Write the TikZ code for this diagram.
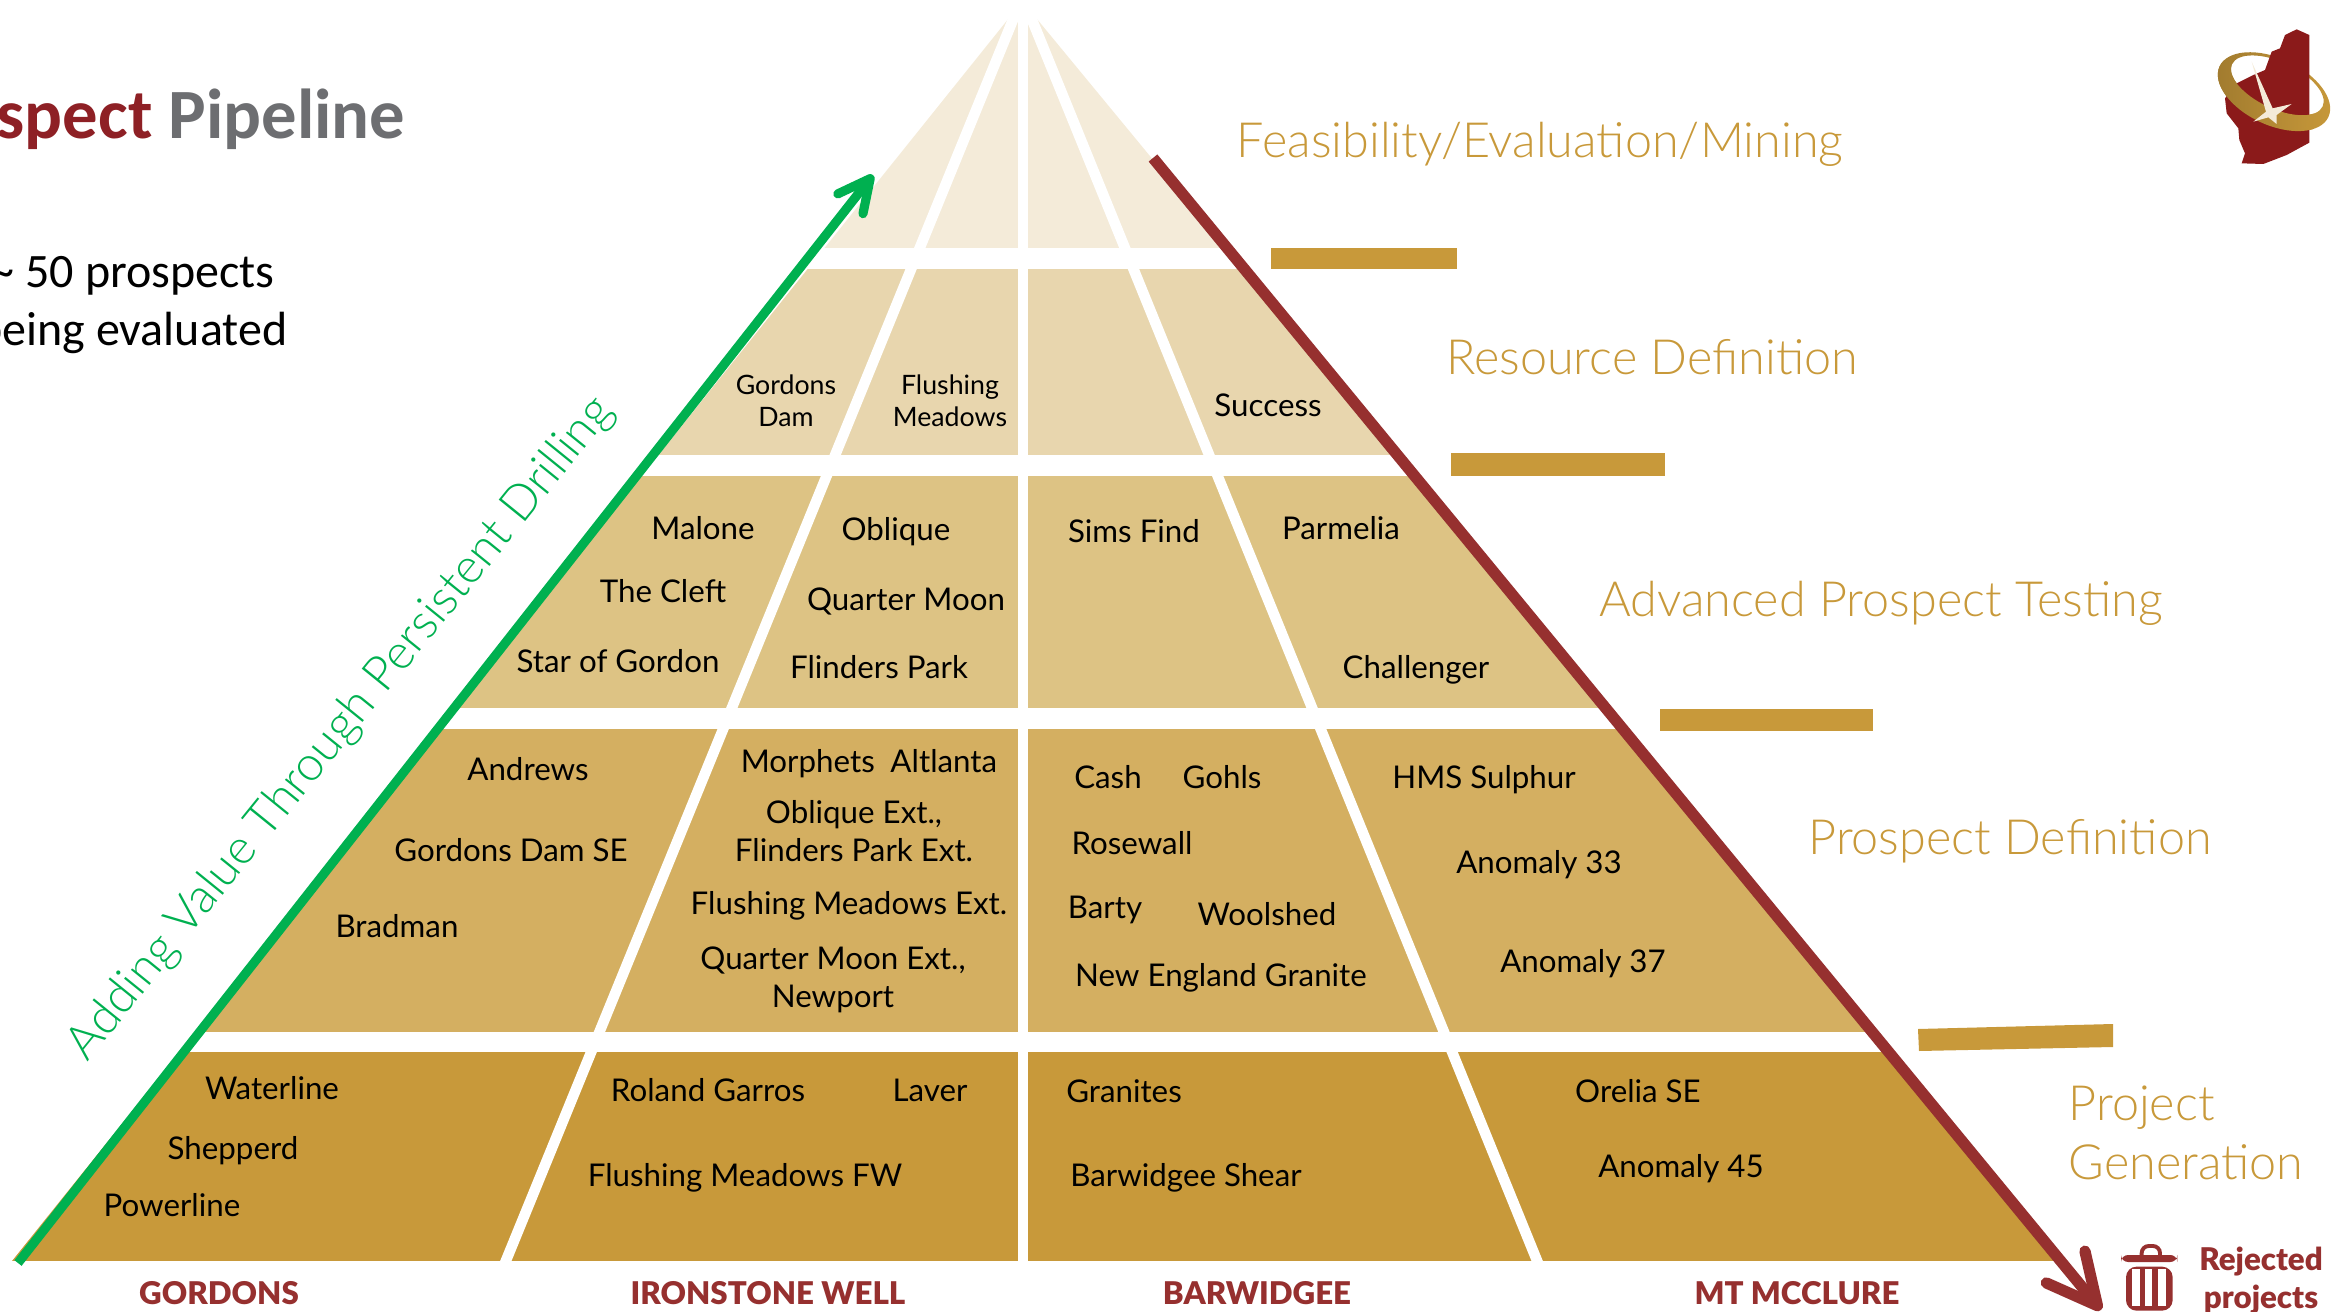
\documentclass[tikz,border=0pt]{standalone}
\usepackage{fontspec}
\setmainfont{Lato}
\newfontfamily\lightfont{Lato Light}
\newfontfamily\heavyfont{Lato Black}
\newfontfamily\titlefont{Carlito}
\usepackage{xcolor}
\usepackage{tikz}
\usetikzlibrary{arrows.meta, positioning}
\definecolor{rowa}{HTML}{F4EBD9}
\definecolor{rowb}{HTML}{E8D6AE}
\definecolor{rowc}{HTML}{DDC384}
\definecolor{rowd}{HTML}{D4AF61}
\definecolor{rowe}{HTML}{C8993A}
\definecolor{rejectred}{HTML}{96302F}
\definecolor{titlered}{HTML}{8E2025}
\definecolor{titlegrey}{HTML}{6D6E71}
\definecolor{drillgreen}{HTML}{00B050}
\definecolor{statered}{HTML}{8B1A1A}
\tikzset{
    site/.style={font=\fontsize{8.9}{10.8}\selectfont, text=black, align=center, inner sep=0pt},
    smallsite/.style={site, font=\fontsize{7.6}{9.2}\selectfont},
    stage/.style={font=\lightfont\fontsize{13.8}{16.6}\selectfont, text=rowe, align=left, inner sep=0pt},
    camp/.style={font=\heavyfont\fontsize{8.9}{10.4}\selectfont, text=rejectred, inner sep=0pt},
    divider/.style={white, line width=3pt},
    bar/.style={fill=rowe, draw=none}
}
\begin{document}
\begin{tikzpicture}[x=0.01cm, y=-0.01cm]
    \useasboundingbox (0,0) rectangle (2341,1312);

    % Rows of the pyramid
    \coordinate (apexleft) at (1013,13);
    \coordinate (apexright) at (1032,13);
    \coordinate (baseleft) at (12,1261);
    \coordinate (baseright) at (2061,1261);
    \begin{scope}
        \clip (apexleft) -- (apexright) -- (baseright) -- (baseleft) -- cycle;
        \foreach \ya/\yb/\rowcol in {13/248/rowa, 269/455/rowb, 476/708/rowc, 729/1032/rowd, 1052/1261/rowe}
            \fill[\rowcol] (0,\ya) rectangle (2341,\yb);
    \end{scope}

    % White gaps between the camps
    \coordinate (gapa) at (1019,5);
    \coordinate (gapb) at (505,1263);
    \coordinate (gapc) at (1023,5);
    \coordinate (gapd) at (1023,1263);
    \coordinate (gape) at (1026,5);
    \coordinate (gapf) at (1538,1263);
    \draw[divider] (gapa) -- (gapb);
    \draw[divider] (gapc) -- (gapd);
    \draw[divider] (gape) -- (gapf);

    % Bars between the stages
    \fill[bar] (1271,248) rectangle (1457,269);
    \fill[bar] (1451,453) rectangle (1665,476);
    \fill[bar] (1660,709) rectangle (1873,731);
    \fill[bar] (1918,1029) -- (2113,1024) -- (2113,1047) -- (1919,1051) -- cycle;

    % Arrows on both flanks
    \coordinate (greenstart) at (18,1263);
    \coordinate (greenend) at (873,175);
    \coordinate (redstart) at (1153,158);
    \coordinate (redend) at (2101,1310);
    \draw[drillgreen, line width=2.6pt, -{Straight Barb[round,length=0.32cm,width=0.32cm]}] (greenstart) -- (greenend);
    \draw[rejectred, line width=3.2pt, -{Straight Barb[round,length=0.5cm,width=0.5cm]}] (redstart) -- (redend);

    % Title and note on the left
    \node[font=\titlefont\bfseries\fontsize{20.1}{24}\selectfont, anchor=east, inner sep=0pt] (title) at (406,119)
        {\textcolor{titlered}{Prospect} \textcolor{titlegrey}{Pipeline}};
    \node[font=\titlefont\fontsize{13.65}{16.5}\selectfont, anchor=east, align=left, inner sep=0pt] (note) at (288,305)
        {\hspace*{3.8pt}\~{} 50 prospects\\being evaluated};
    \node[font=\lightfont\fontsize{13.7}{16}\selectfont, text=drillgreen, rotate=51, inner sep=0pt] (drilling) at (341,729)
        {Adding Value Through Persistent Drilling};

    % Stages on the right
    \node[stage] (feasibility) at (1540,144) {Feasibility/Evaluation/Mining};
    \node[stage] (resource) at (1652,357) {Resource Definition};
    \node[stage] (advanced) at (1881,603) {Advanced Prospect Testing};
    \node[stage] (definition) at (2010,841) {Prospect Definition};
    \node[stage, anchor=west] (generation) at (2068,1133) {Project\\Generation};

    % Prospects, row by row
    \node[smallsite] (gordonsdam) at (786,401) {Gordons\\Dam};
    \node[smallsite] (meadows) at (950,401) {Flushing\\Meadows};
    \node[site] (success) at (1268,405) {Success};

    \node[site] (malone) at (703,528) {Malone};
    \node[site] (cleft) at (663,591) {The Cleft};
    \node[site] (star) at (618,661) {Star of Gordon};
    \node[site] (oblique) at (896,532) {Oblique};
    \node[site] (quarter) at (906,601) {Quarter Moon};
    \node[site] (flinders) at (879,667) {Flinders Park};
    \node[site] (sims) at (1134,531) {Sims Find};
    \node[site] (parmelia) at (1341,528) {Parmelia};
    \node[site] (challenger) at (1416,670) {Challenger};

    \node[site] (andrews) at (528,769) {Andrews};
    \node[site] (gordonsse) at (511,850) {Gordons Dam SE};
    \node[site] (bradman) at (397,926) {Bradman};
    \node[site] (morphets) at (869,764) {Morphets\enspace Altlanta};
    \node[site] (obliqueext) at (854,831) {Oblique Ext.,\\Flinders Park Ext.};
    \node[site] (meadowsext) at (849,906) {Flushing Meadows Ext.};
    \node[site] (quarterext) at (833,980) {Quarter Moon Ext.,\\Newport};
    \node[site] (cash) at (1108,777) {Cash};
    \node[site] (gohls) at (1222,777) {Gohls};
    \node[site] (rosewall) at (1132,843) {Rosewall};
    \node[site] (barty) at (1105,910) {Barty};
    \node[site] (woolshed) at (1267,914) {Woolshed};
    \node[site] (england) at (1221,978) {New England Granite};
    \node[site] (sulphur) at (1484,780) {HMS Sulphur};
    \node[site] (anomalya) at (1539,865) {Anomaly 33};
    \node[site] (anomalyb) at (1583,964) {Anomaly 37};

    \node[site] (waterline) at (272,1088) {Waterline};
    \node[site] (shepperd) at (233,1151) {Shepperd};
    \node[site] (powerline) at (172,1205) {Powerline};
    \node[site] (garros) at (708,1090) {Roland Garros};
    \node[site] (laver) at (930,1090) {Laver};
    \node[site] (meadowsfw) at (745,1178) {Flushing Meadows FW};
    \node[site] (granites) at (1124,1091) {Granites};
    \node[site] (shear) at (1186,1178) {Barwidgee Shear};
    \node[site] (orelia) at (1638,1091) {Orelia SE};
    \node[site] (anomalyc) at (1681,1169) {Anomaly 45};

    % Camps under the base
    \node[camp] (gordons) at (219,1293) {GORDONS};
    \node[camp] (ironstone) at (768,1293) {IRONSTONE WELL};
    \node[camp] (barwidgee) at (1257,1293) {BARWIDGEE};
    \node[camp] (mcclure) at (1797,1293) {MT MCCLURE};

    % Rejected projects with the bin
    \node[camp, font=\heavyfont\fontsize{8.9}{10.8}\selectfont, align=center] (rejected) at (2261,1281) {Rejected\\projects};
    \begin{scope}[shift={(1900,1000)}, scale=1/3]
        \draw[rejectred, line width=1.1pt, rounded corners=2pt] (725,770) -- (725,738) -- (780,738) -- (780,770);
        \fill[rejectred, rounded corners=2pt] (663,765) rectangle (832,786);
        \fill[rejectred, rounded corners=3pt] (678,800) rectangle (818,932);
        \foreach \xa in {697,735,775}
            \fill[white] (\xa,808) rectangle ({\xa+22},918);
    \end{scope}

    % Logo in the corner
    \begin{scope}[shift={(1900,0)}, scale=1/3]
        \shade[even odd rule, left color=rowe!80!black, right color=rowe] (1122,275) ellipse [x radius=180, y radius=100, rotate=-25]
            (1132,256) ellipse [x radius=150, y radius=70, rotate=-25];
        \fill[statered] (1190,88) -- (1228,105) -- (1228,428) -- (1160,465) -- (1090,492) -- (1025,490) -- (1035,460)
            -- (1018,420) -- (1015,385) -- (980,340) -- (975,295) -- (1010,250) -- (1060,225) -- (1095,210)
            -- (1115,155) -- (1140,145) -- (1155,105) -- cycle;
        \begin{scope}
            \clip (940,140) -- (1010,225) -- (1240,300) -- (1240,420) -- (940,420) -- cycle;
            \shade[even odd rule, left color=rowe!80!black, middle color=rowa, right color=rowe] (1122,275) ellipse [x radius=180, y radius=100, rotate=-25]
                (1132,256) ellipse [x radius=150, y radius=70, rotate=-25];
        \end{scope}
        \fill[rowa] (1055,185) -- (1118,325) -- (1175,312) -- (1130,345) -- (1130,372) -- (1105,352) -- (1060,365) -- (1098,335) -- cycle;
    \end{scope}

\end{tikzpicture}
\end{document}
